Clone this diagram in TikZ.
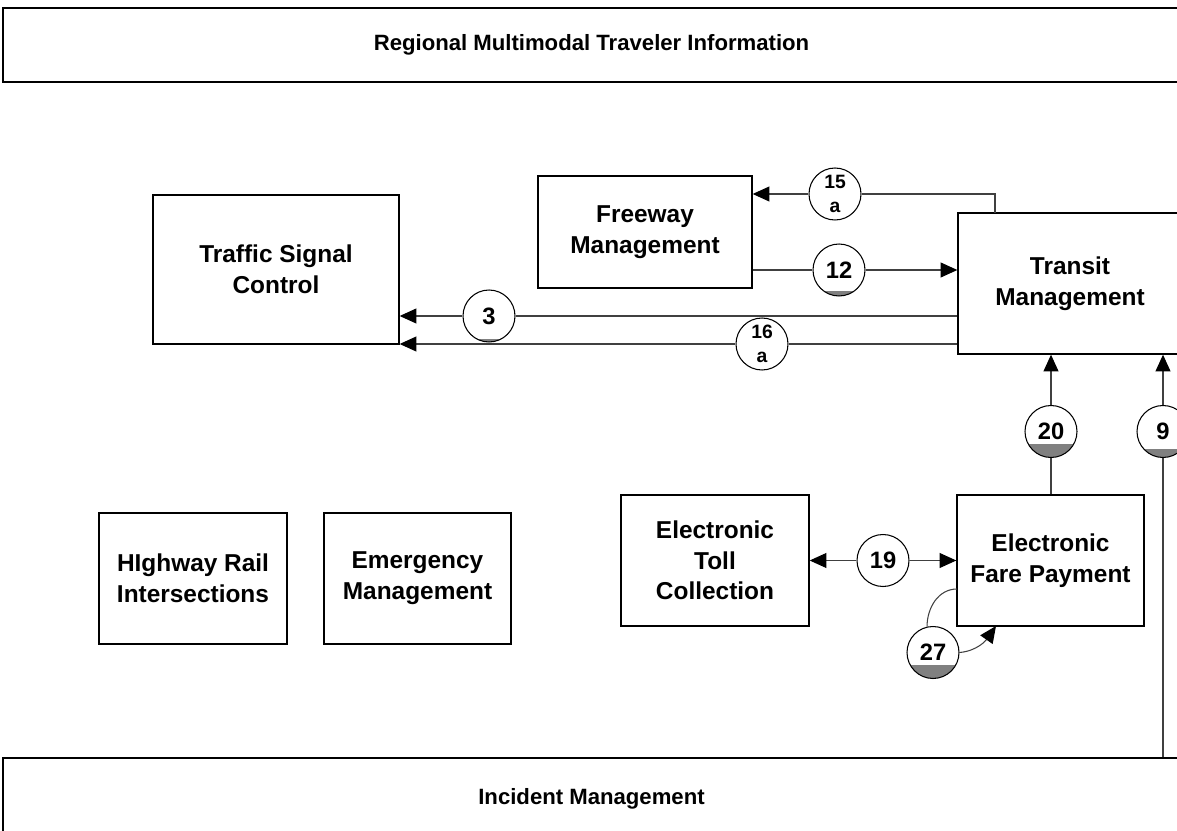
\documentclass[tikz,border=0pt]{standalone}
\usepackage{fontspec}
\setmainfont{Liberation Sans}
\usetikzlibrary{arrows.meta}
\definecolor{levelgray}{HTML}{808080}

\begin{document}
\begin{tikzpicture}[x=0.02cm,y=-0.02cm,
        box/.style={draw=black, line width=0.8pt, align=center, inner sep=0pt,
            font=\fontsize{13.9}{17.5}\selectfont\bfseries},
        band/.style={box, minimum width=23.54cm,
            font=\fontsize{12.6}{15}\selectfont\bfseries},
        flow/.style={circle, draw=black, line width=0.6pt, fill=white,
            minimum size=1.04cm, inner sep=0pt, align=center,
            font=\fontsize{13.5}{15}\selectfont\bfseries},
        flowsmall/.style={flow, font=\fontsize{11}{13.6}\selectfont\bfseries},
        level/.style={path picture={
            \fill[levelgray] (path picture bounding box.south west)
                rectangle ([yshift=#1]path picture bounding box.south east);}},
        link/.style={draw=black!75, line width=0.6pt},
        tip/.style={-{Triangle[length=9.5pt,width=8.5pt,black]}}]
        \useasboundingbox (0,0) rectangle (1177,831);
        \clip (0,0) rectangle (1177,831);

        % The two bands across the page.
        \node[band, minimum height=1.48cm] (regional) at (591.5,45)
            {Regional Multimodal Traveler Information};
        \node[band, minimum height=1.64cm] (incident) at (591.5,799)
            {Incident Management};

        % The subsystems.
        \node[box, minimum width=4.92cm, minimum height=2.98cm] (signal) at (276,269.5)
            {Traffic Signal\\Control};
        \node[box, minimum width=4.28cm, minimum height=2.24cm] (freeway) at (645,232)
            {Freeway\\Management};
        \node[box, minimum width=4.48cm, minimum height=2.82cm] (transit) at (1070,283.5)
            {Transit\\Management};
        \node[box, minimum width=3.76cm, minimum height=2.62cm] (rail) at (193,578.5)
            {HIghway Rail\\Intersections};
        \node[box, minimum width=3.74cm, minimum height=2.62cm] (emergency) at (417.5,578.5)
            {Emergency\\Management};
        \node[box, minimum width=3.76cm, minimum height=2.62cm] (toll) at (715,560.5)
            {Electronic\\Toll\\Collection};
        \node[box, minimum width=3.74cm, minimum height=2.62cm] (fare) at (1050.5,560.5)
            {Electronic\\Fare Payment};

        % The numbered flows.
        \node[flowsmall] (f15a) at (835,194) {15\\a};
        \node[flow, level=0.1cm] (f12) at (839,270) {12};
        \node[flow, level=0.05cm] (f3) at (489,316) {3};
        \node[flowsmall] (f16a) at (762,344) {16\\a};
        \node[flow, level=0.26cm] (f20) at (1051,431.5) {20};
        \node[flow, level=0.16cm] (f9) at (1163,431.5) {9};
        \node[flow] (f19) at (883,560.5) {19};
        \node[flow, level=0.28cm] (f27) at (933,652.5) {27};

        \coordinate (t15) at (995,213);
        \coordinate (p27) at (957,589);
        \coordinate (q27) at (996,626);

        % Transit to freeway and signal control.
        \draw[link] (t15) |- (f15a.east);
        \draw[link, tip] (f15a.west) -- (f15a.west -| freeway.east);
        \draw[link] (f12 -| freeway.east) -- (f12.west);
        \draw[link, tip] (f12.east) -- (f12 -| transit.west);
        \draw[link] (f3 -| transit.west) -- (f3.east);
        \draw[link, tip] (f3.west) -- (f3 -| signal.east);
        \draw[link] (f16a -| transit.west) -- (f16a.east);
        \draw[link, tip] (f16a.west) -- (f16a -| signal.east);

        % Up into transit.
        \draw[link] (f20 |- fare.north) -- (f20.south);
        \draw[link, tip] (f20.north) -- (f20 |- transit.south);
        \draw[link] (f9 |- incident.north) -- (f9.south);
        \draw[link, tip] (f9.north) -- (f9 |- transit.south);

        % Toll and fare payment.
        \draw[link, tip] (f19.west) -- (f19 -| toll.east);
        \draw[link, tip] (f19.east) -- (f19 -| fare.west);
        \draw[link] (f27.103) to[out=90, in=180] (p27);
        \draw[link, tip] (f27.east) to[out=5, in=235] (q27);
    \end{tikzpicture}
\end{document}
